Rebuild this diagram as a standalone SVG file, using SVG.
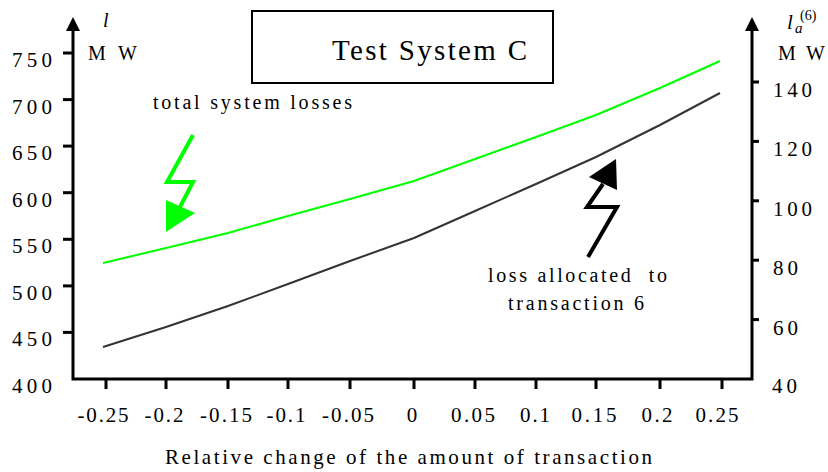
<svg xmlns="http://www.w3.org/2000/svg" width="828" height="472" viewBox="0 0 828 472">
<style>
text{font-family:"Times New Roman","Liberation Serif","DejaVu Serif","Noto Serif",Times,serif;fill:#000}
.ax{stroke:#000;stroke-width:3;fill:none}
.tk{stroke:#000;stroke-width:3}
.yl{font-size:21px;text-anchor:end}
.yr{font-size:21px}
.xl{font-size:21px;text-anchor:middle}
.lbl{font-size:20px}
</style>
<rect width="828" height="472" fill="#fff"/>
<g id="title">
<rect x="252" y="11" width="301" height="72" fill="#fff" stroke="#000" stroke-width="2"/>
<text x="332" y="60" font-size="29" textLength="195" lengthAdjust="spacing">Test System C</text>
</g>
<g id="axes">
<polyline class="ax" points="73,30 73,379 752,379 752,30"/>
<polygon points="73,17 66,31 80,31" fill="#000"/>
<polygon points="752,17 745,31 759,31" fill="#000"/>
</g>
<g id="left-ticks">
<line class="tk" x1="63" y1="53" x2="73" y2="53"/>
<line class="tk" x1="63" y1="99.6" x2="73" y2="99.6"/>
<line class="tk" x1="63" y1="146.1" x2="73" y2="146.1"/>
<line class="tk" x1="63" y1="192.7" x2="73" y2="192.7"/>
<line class="tk" x1="63" y1="239.3" x2="73" y2="239.3"/>
<line class="tk" x1="63" y1="285.9" x2="73" y2="285.9"/>
<line class="tk" x1="63" y1="332.4" x2="73" y2="332.4"/>
<text class="yl" x="52" y="67" textLength="40" lengthAdjust="spacing">750</text>
<text class="yl" x="52" y="113.6" textLength="40" lengthAdjust="spacing">700</text>
<text class="yl" x="52" y="160.1" textLength="40" lengthAdjust="spacing">650</text>
<text class="yl" x="52" y="206.7" textLength="40" lengthAdjust="spacing">600</text>
<text class="yl" x="52" y="253.3" textLength="40" lengthAdjust="spacing">550</text>
<text class="yl" x="52" y="299.9" textLength="40" lengthAdjust="spacing">500</text>
<text class="yl" x="52" y="346.4" textLength="40" lengthAdjust="spacing">450</text>
<text class="yl" x="52" y="393" textLength="40" lengthAdjust="spacing">400</text>
<text x="103" y="27" font-size="20" font-style="italic">l</text>
<text x="88" y="60" font-size="20" textLength="49" lengthAdjust="spacing">M W</text>
</g>
<g id="right-ticks">
<line class="tk" x1="752" y1="82" x2="759" y2="82"/>
<line class="tk" x1="752" y1="141.4" x2="759" y2="141.4"/>
<line class="tk" x1="752" y1="200.8" x2="759" y2="200.8"/>
<line class="tk" x1="752" y1="260.2" x2="759" y2="260.2"/>
<line class="tk" x1="752" y1="319.6" x2="759" y2="319.6"/>
<text class="yr" x="773" y="97" textLength="39" lengthAdjust="spacing">140</text>
<text class="yr" x="773" y="156.4" textLength="39" lengthAdjust="spacing">120</text>
<text class="yr" x="773" y="215.8" textLength="39" lengthAdjust="spacing">100</text>
<text class="yr" x="773" y="275.2" textLength="25" lengthAdjust="spacing">80</text>
<text class="yr" x="773" y="334.6" textLength="25" lengthAdjust="spacing">60</text>
<text class="yr" x="772" y="393" textLength="25" lengthAdjust="spacing">40</text>
<text x="787" y="29" font-size="21" font-style="italic">l</text>
<text x="795" y="33" font-size="15" font-style="italic">a</text>
<text x="800" y="20" font-size="14">(6)</text>
<text x="778" y="60" font-size="20" textLength="47" lengthAdjust="spacing">M W</text>
</g>
<g id="x-ticks">
<line class="tk" x1="106" y1="379" x2="106" y2="389"/>
<line class="tk" x1="166" y1="379" x2="166" y2="389"/>
<line class="tk" x1="228" y1="379" x2="228" y2="389"/>
<line class="tk" x1="288" y1="379" x2="288" y2="389"/>
<line class="tk" x1="350" y1="379" x2="350" y2="389"/>
<line class="tk" x1="414" y1="379" x2="414" y2="389"/>
<line class="tk" x1="475" y1="379" x2="475" y2="389"/>
<line class="tk" x1="536" y1="379" x2="536" y2="389"/>
<line class="tk" x1="596" y1="379" x2="596" y2="389"/>
<line class="tk" x1="660" y1="379" x2="660" y2="389"/>
<line class="tk" x1="722" y1="379" x2="722" y2="389"/>
<text class="xl" x="103" y="422" textLength="51" lengthAdjust="spacing">-0.25</text>
<text class="xl" x="164" y="422" textLength="39" lengthAdjust="spacing">-0.2</text>
<text class="xl" x="226" y="422" textLength="52" lengthAdjust="spacing">-0.15</text>
<text class="xl" x="286" y="422" textLength="39" lengthAdjust="spacing">-0.1</text>
<text class="xl" x="348" y="422" textLength="52" lengthAdjust="spacing">-0.05</text>
<text class="xl" x="412" y="422">0</text>
<text class="xl" x="473" y="422" textLength="44" lengthAdjust="spacing">0.05</text>
<text class="xl" x="535" y="422" textLength="30" lengthAdjust="spacing">0.1</text>
<text class="xl" x="594" y="422" textLength="45" lengthAdjust="spacing">0.15</text>
<text class="xl" x="657" y="422" textLength="31" lengthAdjust="spacing">0.2</text>
<text class="xl" x="717" y="422" textLength="43" lengthAdjust="spacing">0.25</text>
<text x="165" y="464" font-size="21" textLength="487" lengthAdjust="spacing">Relative change of the amount of transaction</text>
</g>
<g id="curves">
<polyline fill="none" stroke="#00ff00" stroke-width="2" points="103,263 166,248 228,233 288,216 350,199 414,181 475,159 536,137 596,115 660,88 720,61"/>
<polyline fill="none" stroke="#333" stroke-width="2" points="103,347 166,327 228,306 288,284 350,261 414,238 475,211 536,184 596,157 660,125 720,93"/>
</g>
<g id="annotation-total">
<text class="lbl" x="153" y="109" textLength="199" lengthAdjust="spacing">total system losses</text>
<polyline fill="none" stroke="#00ff00" stroke-width="4" points="193,135 167,182 193,182 180,207"/>
<polygon points="166,200 195,213 166,232" fill="#00ff00"/>
</g>
<g id="annotation-loss">
<text class="lbl" x="488" y="282" textLength="179" lengthAdjust="spacing" style="white-space:pre">loss allocated  to</text>
<text class="lbl" x="508" y="310" textLength="136" lengthAdjust="spacing">transaction 6</text>
<polyline fill="none" stroke="#000" stroke-width="4" points="588,257 617,207 587,207 603,184"/>
<polygon points="589,177 616,159 617,190" fill="#000"/>
</g>
</svg>
